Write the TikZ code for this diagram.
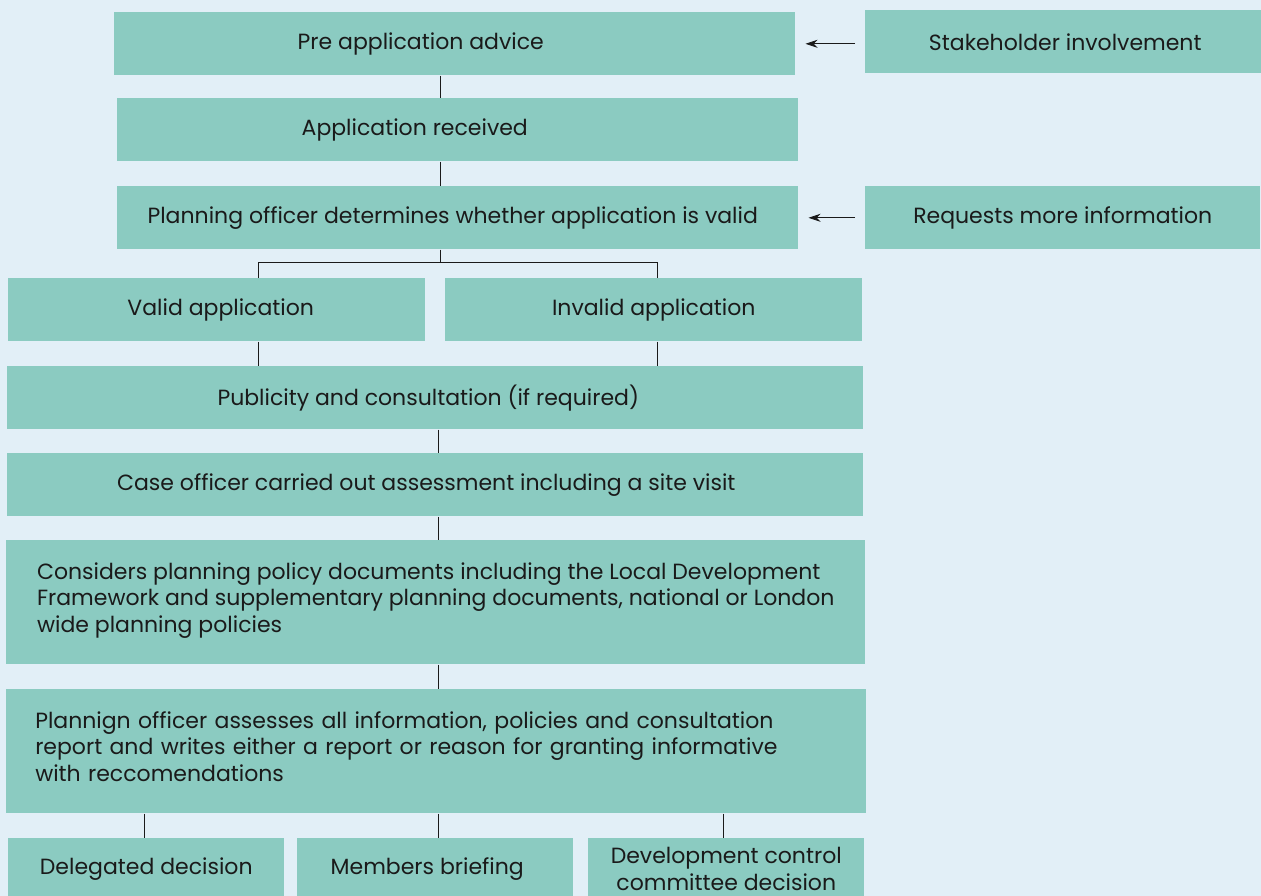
\documentclass[tikz,border=0pt]{standalone}
\usepackage{fontspec}
\setmainfont{Poppins}
\usetikzlibrary{arrows.meta}

\newlength{\du}
\setlength{\du}{0.75pt}

\definecolor{pagebg}{HTML}{E2EFF7}
\definecolor{boxfill}{HTML}{8BCBC1}
\definecolor{inkcolor}{HTML}{1A1A1A}

\begin{document}
\begin{tikzpicture}[yscale=-1,
  every node/.style={font=\fontsize{16.5}{20}\selectfont, text=inkcolor},
  box/.style={fill=boxfill, anchor=north west, inner sep=0pt, minimum height=63\du},
  wide/.style={box, align=left, minimum height=124\du},
  link/.style={draw=inkcolor, line width=0.75\du},
  arr/.style={link, -{Stealth[length=9pt, width=6pt]}}]
% page
\fill[pagebg] (0,0) rectangle (1261\du,896\du);
\useasboundingbox (0,0) rectangle (1261\du,896\du);
% main column
\node[box, minimum width=681\du, label={[xshift=-34\du]center:Pre application advice}] (pre) at (114\du,12\du) {};
\node[box, minimum width=681\du, label={[xshift=-43\du]center:Application received}] (app) at (117\du,98\du) {};
\node[box, minimum width=681\du, label={[xshift=-5\du]center:Planning officer determines whether application is valid}] (check) at (117\du,186\du) {};
% side boxes
\node[box, minimum width=400\du] (stake) at (865\du,10\du) {Stakeholder involvement};
\node[box, minimum width=395\du] (more) at (865\du,186\du) {Requests more information};
% branch
\node[box, minimum width=417\du, label={[xshift=4\du]center:Valid application}] (valid) at (8\du,278\du) {};
\node[box, minimum width=417\du] (invalid) at (445\du,278\du) {Invalid application};
\node[box, minimum width=856\du, label={[xshift=-7\du]center:Publicity and consultation (if required)}] (publicity) at (7\du,366\du) {};
\node[box, minimum width=856\du, label={[xshift=-9\du]center:Case officer carried out assessment including a site visit}] (case) at (7\du,453\du) {};
\node[wide, minimum width=859\du, text depth=7pt] (policy) at (6\du,540\du)
  {Considers planning policy documents including the Local Development\\
   Framework and supplementary planning documents, national or London\\
   wide planning policies};
\node[wide, text width=802\du, inner xsep=29\du, text depth=47.5pt] (report) at (6\du,689\du)
  {Plannign officer assesses all information, policies and consultation\\
   report and writes either a report or reason for granting informative\\
   with reccomendations};
% outcomes
\node[box, minimum width=276\du, minimum height=62\du] (delegated) at (8\du,838\du) {Delegated decision};
\node[box, minimum width=276\du, minimum height=62\du, label={[xshift=-8\du]center:Members briefing}] (members) at (297\du,838\du) {};
\node[box, minimum width=276\du, minimum height=62\du, align=center] (committee) at (588\du,838\du)
  {Development control\\committee decision};

% connectors
\coordinate (spine) at (440\du,0);
\coordinate (lowspine) at (438\du,0);
\coordinate (lv) at (258\du,0);
\coordinate (rv) at (657\du,0);
\draw[link] (pre.south -| spine) -- (app.north -| spine);
\draw[link] (app.south -| spine) -- (check.north -| spine);
\draw[link] (check.south -| spine) -- ++(0,13\du) coordinate (fork);
\draw[link] (valid.north -| lv) |- (fork) -| (invalid.north -| rv);
\draw[link] (valid.south -| lv) -- (publicity.north -| lv);
\draw[link] (invalid.south -| rv) -- (publicity.north -| rv);
\draw[link] (publicity.south -| lowspine) -- (case.north -| lowspine);
\draw[link] (case.south -| lowspine) -- (policy.north -| lowspine);
\draw[link] (policy.south -| lowspine) -- (report.north -| lowspine);
\draw[link] ([xshift=-2\du]delegated.north |- report.south) -- ([xshift=-2\du]delegated.north);
\draw[link] (report.south -| lowspine) -- (members.north -| lowspine);
\draw[link] ([xshift=-3\du]committee.north |- report.south) -- ([xshift=-3\du]committee.north);
\draw[arr] ([xshift=-10\du]stake.west |- pre.east) -- ([xshift=10\du]pre.east);
\draw[arr] ([xshift=-10\du]more.west) -- ([xshift=10\du]check.east);
\end{tikzpicture}
\end{document}
